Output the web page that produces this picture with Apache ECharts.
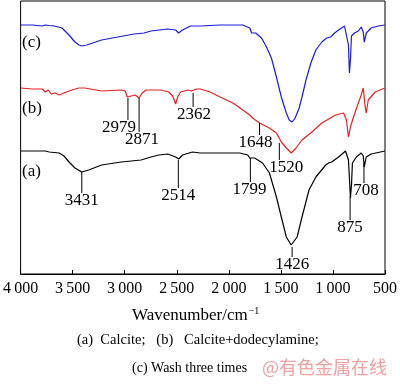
<!DOCTYPE html>
<html>
<head>
<meta charset="utf-8">
<script src="https://cdn.jsdelivr.net/npm/echarts@6/dist/echarts.min.js"></script>
<style>html,body{margin:0;padding:0;background:#fff;}#chart{width:400px;height:385px;}</style>
</head>
<body>
<div id="chart"></div>
<script>
// ---- data (wavenumber cm^-1, relative transmittance in arbitrary units) ----
const aWn  = [4000,3886,3763,3725,3630,3583,3535,3478,3412,3346,3222,3033,2843,2748,2672,2587,2511,2482,2444,2350,2274,1894,1818,1799,1752,1676,1610,1543,1496,1448,1401,1382,1344,1297,1230,1164,1069,1041,1012,946,879,851,832,822,813,775,728,709,699,690,680,633,500];
const aVal = [123,123,123,122,121,118,112,106,102,104,109,112,114,117,119,120,117,115,119,122,121,121,119,116,116,111,101,77,57,37,29,27,37,57,84,97,109,111,112,117,123,114,76,89,111,117,121,118,107,112,117,120,123];

const bWn  = [4000,3886,3791,3763,3734,3706,3668,3630,3583,3507,3440,3383,3222,3033,2995,2976,2938,2900,2862,2833,2795,2653,2577,2539,2511,2492,2463,2397,2359,2340,2312,2274,2179,2084,1961,1866,1799,1781,1771,1752,1705,1610,1543,1496,1448,1401,1354,1297,1202,1107,974,898,870,851,832,803,756,728,709,690,680,661,595,500];
const bVal = [186,185,185,182,184,180,181,179,181,184,186,186,183,184,183,177,178,179,176,181,184,184,182,178,170,177,182,184,183,181,185,185,182,177,171,164,159,157,156,156,151,146,141,132,126,121,126,134,142,151,159,161,154,137,147,157,171,179,186,167,161,174,182,186];

const cWn  = [4000,3886,3791,3763,3725,3678,3602,3535,3478,3440,3412,3364,3222,2909,2814,2748,2587,2511,2482,2444,2369,2274,2084,1866,1799,1781,1742,1686,1638,1591,1543,1496,1448,1420,1392,1363,1325,1297,1259,1212,1164,1107,1060,1022,984,946,889,870,851,842,832,822,794,756,728,709,699,690,680,633,566,500];
const cVal = [249,249,248,249,248.5,248,246,239,232,229,228,229,234,240,241,243,245,244,241,244,248,248,249,249,246,241,241,236,227,216,197,177,161,154,152,156,166,177,194,211,224,232,236,237,241,244,248,249,229,201,214,238,241,243,247,242,232,234,241,246,248,249];

const tickValues = [4000,3500,3000,2500,2000,1500,1000,500];
const tickLabels = ['4\u2009000','3\u2009500','3\u2009000','2\u2009500','2\u2009000','1\u2009500','1\u2009000','500'];

// peak annotations: label, wavenumber of the leader line, line top / bottom (y units)
const annText   = ['3431','2979','2871','2514','2362','1799','1648','1520','1426','875','708'];
const annWn     = [3412,2969,2862,2485,2343,1793,1705,1515,1392,835,702];
const annTop    = [102,176,176,114,181,116,151,131,27,77,111];
const annBottom = [81,154,142,86,167,92,139,114,17,54,91];
// label horizontal nudges (style only)
const annDx     = [0,-9,3,0,1,-1,-4,7,0,0,2];

const serif = "'Liberation Serif','Times New Roman',serif";
const chart = echarts.init(document.getElementById('chart'), null, {renderer:'canvas'});

const zip = (xs, ys) => xs.map((x,i)=>[x, ys[i]]);

chart.setOption({
  animation:false,
  backgroundColor:'#fff',
  grid:{left:18,right:12.5,top:1,bottom:111,show:true,borderColor:'#000',borderWidth:1},
  xAxis:{
    type:'value', inverse:true, min:500, max:4000, interval:500,
    axisLine:{show:true,lineStyle:{color:'#000',width:1}},
    axisTick:{show:true,inside:true,length:4,lineStyle:{color:'#000'}},
    splitLine:{show:false},
    axisLabel:{color:'#000',fontFamily:serif,fontSize:16,margin:7,
      formatter:v=>{const i=tickValues.indexOf(v);return i>=0?tickLabels[i]:'';}}
  },
  yAxis:{type:'value',min:0,max:273,show:false},
  graphic:[
    {type:'text',left:22,top:34,style:{text:'(c)',font:'17px '+serif,fill:'#000'}},
    {type:'text',left:22,top:100,style:{text:'(b)',font:'17px '+serif,fill:'#000'}},
    {type:'text',left:22,top:163,style:{text:'(a)',font:'17px '+serif,fill:'#000'}},
    {type:'text',left:132,top:306,style:{
      rich:{t:{fontFamily:serif,fontSize:17,fill:'#000'},s:{fontFamily:serif,fontSize:10,fill:'#000',padding:[0,0,10,1]}},
      text:'{t|Wavenumber/cm}{s|\u22121}'}},
    {type:'text',left:77,top:333,style:{text:'(a)  Calcite;   (b)   Calcite+dodecylamine;',font:'14.5px '+serif,fill:'#000'}},
    {type:'text',left:132,top:361,style:{text:'(c) Wash three times',font:'14px '+serif,fill:'#000'}},
    {type:'text',left:262,top:358,style:{text:'@有色金属在线',font:"18px 'Noto Sans CJK SC',sans-serif",fill:'#f2a0a0'}}
  ],
  series:[
    {type:'line',data:zip(aWn,aVal),showSymbol:false,lineStyle:{color:'#000',width:1.2},z:3},
    {type:'line',data:zip(bWn,bVal),showSymbol:false,lineStyle:{color:'#e82020',width:1.2},z:3},
    {type:'line',data:zip(cWn,cVal),showSymbol:false,lineStyle:{color:'#1a1ae0',width:1.2},z:3},
    {type:'custom',z:4,
      data:annText.map((t,i)=>[annWn[i],annTop[i],annBottom[i],i]),
      encode:{x:0,y:1},
      renderItem:(params,api)=>{
        const i=api.value(3);
        const p1=api.coord([api.value(0),api.value(1)]);
        const p2=api.coord([api.value(0),api.value(2)]);
        return {type:'group',children:[
          {type:'line',shape:{x1:p1[0],y1:p1[1],x2:p2[0],y2:p2[1]},style:{stroke:'#000',lineWidth:1}},
          {type:'text',x:p2[0]+annDx[i],y:p2[1]+8,style:{text:annText[i],font:'17px '+serif,fill:'#000',align:'center',verticalAlign:'middle'}}
        ]};
      }}
  ]
});
</script>
</body>
</html>
